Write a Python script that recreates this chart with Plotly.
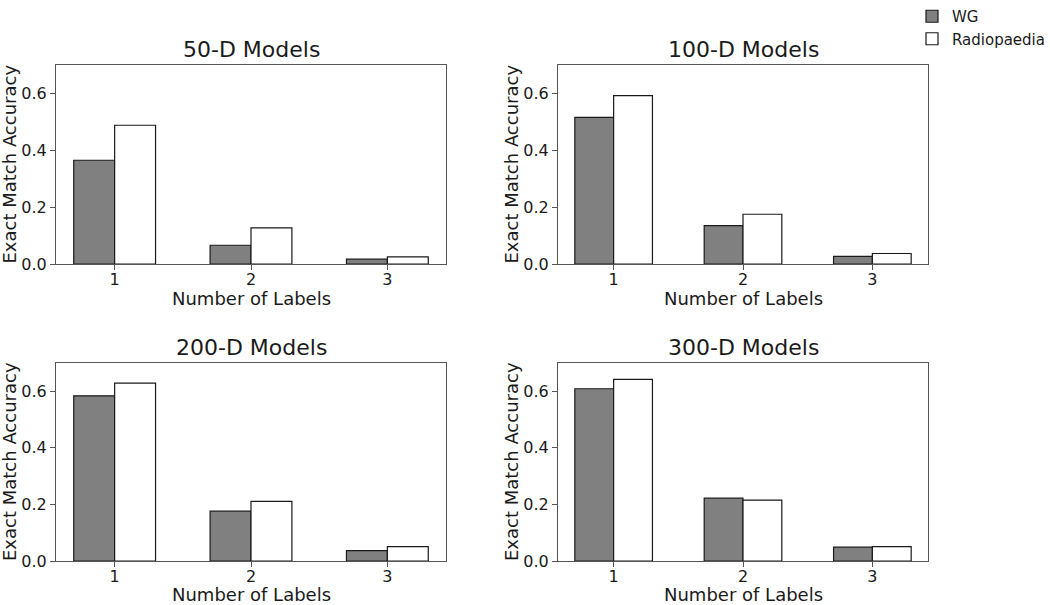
import plotly.graph_objects as go

# ---------------- data ----------------
categories = [1, 2, 3]
series_names = ["WG", "Radiopaedia"]
panel_titles = ["50-D Models", "100-D Models", "200-D Models", "300-D Models"]

wg_50 = [0.365, 0.066, 0.017]
rad_50 = [0.488, 0.127, 0.025]
wg_100 = [0.516, 0.135, 0.027]
rad_100 = [0.592, 0.175, 0.037]
wg_200 = [0.584, 0.176, 0.037]
rad_200 = [0.629, 0.211, 0.051]
wg_300 = [0.609, 0.222, 0.049]
rad_300 = [0.642, 0.215, 0.051]

y_ticks = [0.0, 0.2, 0.4, 0.6]
x_title = "Number of Labels"
y_title = "Exact Match Accuracy"

panels = [(wg_50, rad_50), (wg_100, rad_100), (wg_200, rad_200), (wg_300, rad_300)]

# ---------------- layout geometry (px -> paper) ----------------
W, H = 1050, 605
x_doms = [[56 / W, 446 / W], [558 / W, 928 / W]]
y_doms = [[1 - 264 / H, 1 - 65 / H], [1 - 561 / H, 1 - 363 / H]]
y_title_x = [9 / W, 511 / W]
x_title_y = [1 - 299 / H, 1 - 594.5 / H]

FONT = "DejaVu Sans"
TXT = "#1a1a1a"
EDGE = "#1a1a1a"
SPINE = "#555555"

fig = go.Figure()

for i, (wg, rad) in enumerate(panels):
    sfx = "" if i == 0 else str(i + 1)
    fig.add_trace(go.Bar(
        x=categories, y=wg, name=series_names[0], width=0.3, offset=-0.3,
        marker=dict(color="#808080", line=dict(color=EDGE, width=1.2)),
        xaxis="x" + sfx, yaxis="y" + sfx, legendgroup="wg", showlegend=(i == 0),
    ))
    fig.add_trace(go.Bar(
        x=categories, y=rad, name=series_names[1], width=0.3, offset=0.0,
        marker=dict(color="#ffffff", line=dict(color=EDGE, width=1.2)),
        xaxis="x" + sfx, yaxis="y" + sfx, legendgroup="rad", showlegend=(i == 0),
    ))

layout = dict(
    width=W, height=H,
    autosize=False,
    margin=dict(l=0, r=0, t=0, b=0, pad=0),
    paper_bgcolor="white", plot_bgcolor="white",
    barmode="overlay",
    font=dict(family=FONT, color=TXT),
    showlegend=True,
    legend=dict(x=912 / W, y=1.0, xanchor="left", yanchor="top",
                font=dict(size=15, family=FONT, color=TXT),
                bgcolor="rgba(0,0,0,0)", itemwidth=30, tracegroupgap=0),
    annotations=[],
)

for i in range(4):
    r, c = divmod(i, 2)
    sfx = "" if i == 0 else str(i + 1)
    xa = dict(
        domain=x_doms[c], anchor="y" + sfx, range=[0.57, 3.43],
        tickvals=categories, ticktext=[str(v) for v in categories],
        showline=True, linecolor=SPINE, linewidth=1, mirror=True,
        ticks="outside", ticklen=5, tickcolor=SPINE, tickwidth=1,
        ticklabelstandoff=-4,
        showgrid=False, zeroline=False, automargin=False,
        tickfont=dict(size=16, family=FONT, color=TXT),
    )
    ya = dict(
        domain=y_doms[r], anchor="x" + sfx, range=[0, 0.7],
        tickvals=y_ticks, ticktext=[f"{v:.1f}" for v in y_ticks],
        showline=True, linecolor=SPINE, linewidth=1, mirror=True,
        ticks="outside", ticklen=5, tickcolor=SPINE, tickwidth=1,
        showgrid=False, zeroline=False, automargin=False,
        tickfont=dict(size=16, family=FONT, color=TXT),
    )
    layout["xaxis" + sfx] = xa
    layout["yaxis" + sfx] = ya
    # panel title
    layout["annotations"].append(dict(
        text=panel_titles[i], xref="paper", yref="paper",
        x=(x_doms[c][0] + x_doms[c][1]) / 2, y=y_doms[r][1],
        xanchor="center", yanchor="bottom", yshift=1, showarrow=False,
        font=dict(size=22, family=FONT, color=TXT),
    ))
    # x-axis title
    layout["annotations"].append(dict(
        text=x_title, xref="paper", yref="paper",
        x=(x_doms[c][0] + x_doms[c][1]) / 2, y=x_title_y[r],
        xanchor="center", yanchor="middle", showarrow=False,
        font=dict(size=18, family=FONT, color=TXT),
    ))
    # y-axis title
    layout["annotations"].append(dict(
        text=y_title, xref="paper", yref="paper",
        x=y_title_x[c], y=(y_doms[r][0] + y_doms[r][1]) / 2,
        xanchor="center", yanchor="middle", textangle=-90, showarrow=False,
        font=dict(size=18, family=FONT, color=TXT),
    ))

fig.update_layout(**layout)
fig.write_html("out.html",
               config={"displayModeBar": False},
               post_script="document.body.style.margin='0';document.body.style.overflow='hidden';")
